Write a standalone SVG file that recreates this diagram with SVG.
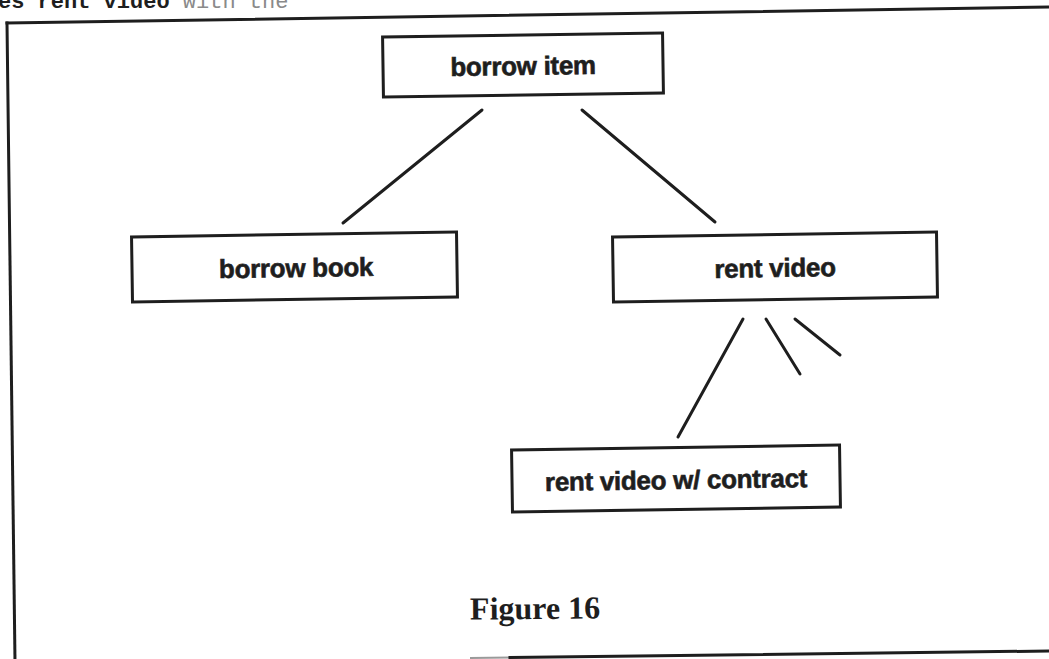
<svg xmlns="http://www.w3.org/2000/svg" width="1049" height="659" viewBox="0 0 1049 659">
  <defs>
    <style>
      .frame { fill: none; stroke: #1e1e1e; stroke-width: 3; stroke-linecap: square; }
      .box { fill: #ffffff; stroke: #1e1e1e; stroke-width: 3; }
      .edge { fill: none; stroke: #1e1e1e; stroke-width: 3; stroke-linecap: round; }
      .label { font-family: "Liberation Sans", Arial, sans-serif; font-weight: bold; font-size: 26px; fill: #1e1e1e; stroke: #1e1e1e; stroke-width: 0.6; text-anchor: middle; letter-spacing: -0.3px; }
      .caption { font-family: "Liberation Serif", "Times New Roman", serif; font-weight: bold; font-size: 32px; fill: #1e1e1e; }
      .runin { font-family: "Liberation Mono", "Courier New", monospace; font-size: 22px; }
    </style>
  </defs>

  <rect width="1049" height="659" fill="#ffffff"/>

  <!-- running text from the page above, cut by the page edge -->
  <text class="runin" x="-2" y="8"><tspan font-weight="bold" fill="#1e1e1e">es rent video</tspan><tspan fill="#8a8a8a"> with the</tspan></text>

  <!-- figure frame -->
  <g id="frame">
    <line class="frame" x1="7" y1="23" x2="1049" y2="7"/>
    <line class="frame" x1="7" y1="23" x2="15" y2="662"/>
    <line x1="470" y1="658" x2="510" y2="657.5" stroke="#9a9a9a" stroke-width="2"/>
    <line class="frame" x1="510" y1="657.5" x2="1049" y2="651"/>
  </g>

  <!-- connectors -->
  <g id="connectors">
    <line class="edge" x1="482" y1="110" x2="343" y2="223"/>
    <line class="edge" x1="582" y1="110" x2="715" y2="222"/>
    <line class="edge" x1="743" y1="319" x2="678" y2="437"/>
    <line class="edge" x1="766" y1="319" x2="800" y2="374"/>
    <line class="edge" x1="795" y1="319" x2="840" y2="355"/>
  </g>

  <g id="borrow-item" transform="rotate(-0.85 523 65)">
    <rect class="box" x="383" y="35" width="280" height="60"/>
    <text class="label" x="523" y="75">borrow item</text>
  </g>

  <g id="borrow-book" transform="rotate(-0.85 294.5 267)">
    <rect class="box" x="132" y="234.5" width="325" height="65"/>
    <text class="label" x="296" y="277">borrow book</text>
  </g>

  <g id="rent-video" transform="rotate(-0.85 775 267)">
    <rect class="box" x="613" y="234.5" width="324" height="65"/>
    <text class="label" x="775" y="277">rent video</text>
  </g>

  <g id="rent-video-contract" transform="rotate(-0.85 676 478.5)">
    <rect class="box" x="512" y="447.5" width="328" height="62"/>
    <text class="label" x="676" y="489">rent video w/ contract</text>
  </g>

  <text id="caption" class="caption" x="470" y="619" transform="rotate(-0.5 536 610)">Figure 16</text>
</svg>
